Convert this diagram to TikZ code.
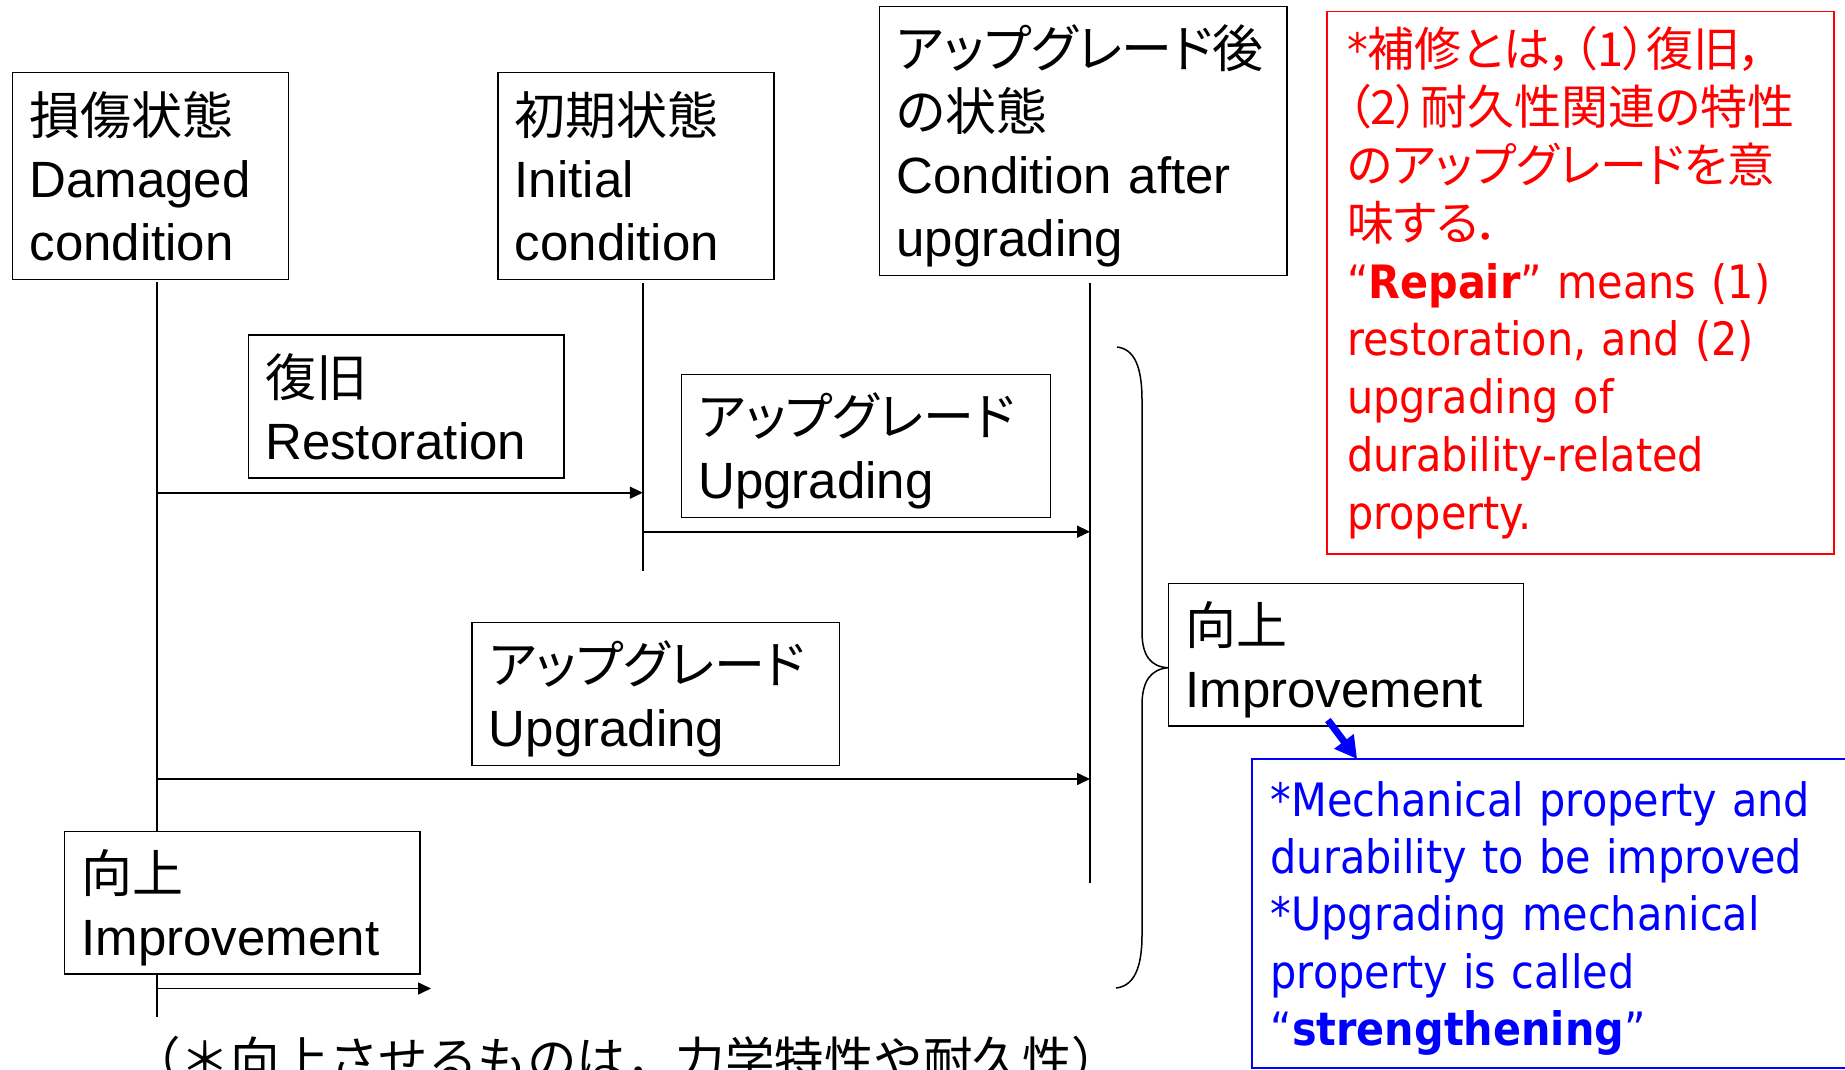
\documentclass[tikz,border=0pt]{standalone}
\usepackage{fontspec}
\setmainfont{Liberation Sans}
\newfontfamily\jp[RawFeature=+palt]{Noto Sans CJK JP}
\newfontfamily\jpf{Noto Sans CJK JP}
\newfontfamily\tah[FakeStretch=0.9]{DejaVu Sans}
\usetikzlibrary{arrows.meta,calc,backgrounds}
\definecolor{rd}{RGB}{255,0,0}
\definecolor{bl}{RGB}{0,0,255}
\begin{document}
\begin{tikzpicture}[x=1pt,y=-1pt,
  bbox/.style={draw, fill=white, line width=1.5pt, anchor=north west, align=left,
    inner xsep=17pt, inner ysep=0pt, outer sep=0pt,
    font=\fontsize{51}{63}\selectfont},
  conn/.style={line width=1.6pt},
  arr/.style={line width=1.6pt, -{Triangle[length=13pt,width=12pt]}},
  bracestyle/.style={line width=1.5pt},
]
\useasboundingbox (0,0) rectangle (1845,1070);
\clip (0,0) rectangle (1845,1070);

% state boxes
\node[bbox, minimum width=276pt, minimum height=207pt, text width=242pt] (dam) at (12.6,72.4)
  {{\jp 損傷状態}\\Damaged\\condition};
\node[bbox, minimum width=276pt, minimum height=207pt, text width=242pt] (ini) at (497.8,72.3)
  {{\jp 初期状態}\\Initial\\condition};
\node[bbox, minimum width=407.5pt, minimum height=269pt, text width=373.5pt] (aft) at (879.5,6.5)
  {{\jp アップグレード後}\\{\jp の状態}\\Condition after\\\smash{upgrading}};

% process boxes
\node[bbox, minimum width=315.5pt, minimum height=143pt, text width=281.5pt] (rest) at (248.3,334.9)
  {{\jp 復旧}\\Restoration};
\node[bbox, minimum width=369pt, minimum height=143pt, text width=335pt] (upa) at (681.3,374.3)
  {{\jp アップグレード}\\\smash{Upgrading}};
\node[bbox, minimum width=367.4pt, minimum height=143pt, text width=333.4pt] (upb) at (471.9,622.3)
  {{\jp アップグレード}\\\smash{Upgrading}};
\node[bbox, minimum width=355.4pt, minimum height=142.5pt, text width=321.4pt] (impa) at (64.6,831.5)
  {{\jp 向上}\\\smash{Improvement}};
\node[bbox, minimum width=355pt, minimum height=142.5pt, text width=321pt] (impb) at (1168.4,583.5)
  {{\jp 向上}\\\smash{Improvement}};

% red note
\node[draw=rd, fill=white, text=rd, line width=1.8pt, anchor=north west, align=left, outer sep=0pt,
  inner xsep=20pt, inner ysep=0pt, minimum width=507pt, minimum height=542.5pt, text width=467pt,
  font=\fontsize{46}{57.8}\selectfont\tah] (red) at (1327,11.5)
  {*{\jp\fontsize{47}{57.8}\selectfont 補修とは，（1）復旧，}\\
   {\jp\fontsize{47}{57.8}\selectfont （2）耐久性関連の特性}\\
   {\jp\fontsize{47}{57.8}\selectfont のアップグレードを意}\\
   {\jp\fontsize{47}{57.8}\selectfont 味する．}\\
   “\textbf{Repair}” means (1)\\
   restoration, and (2)\\
   upgrading of\\
   durability-related\\
   property.};

% blue note
\node[draw=bl, fill=white, text=bl, line width=2pt, anchor=north west, align=left, outer sep=0pt,
  inner xsep=19pt, inner ysep=0pt, minimum width=640pt, minimum height=309pt, text width=602pt,
  font=\fontsize{46}{57.3}\selectfont\tah] (blu) at (1251.6,759)
  {{*}Mechanical property and\\
   {}durability to be improved\\
   {*}Upgrading mechanical\\
   {}property is called\\
   {}\smash{“\textbf{strengthening}”}};

% bottom note
\node[anchor=base west, inner sep=0pt, font=\fontsize{49.5}{60}\selectfont\jpf] (note) at (131,1078)
  {（＊向上させるものは，力学特性や耐久性）};

% connectors (behind the boxes)
\begin{pgfonlayer}{background}
\fill[white] (0,0) rectangle (1845,1070);
\coordinate (d1) at ([xshift=6.5pt,yshift=-3pt]dam.south);
\coordinate (i1) at ([xshift=7pt,yshift=-3.5pt]ini.south);
\coordinate (a1) at ([xshift=6.75pt,yshift=-7.5pt]aft.south);
\coordinate (d1e) at (157,1016.7);
\coordinate (i1e) at (642.8,570.5);
\coordinate (a1e) at (1090,883);
\draw[conn] (d1) -- (d1 |- d1e);
\draw[conn] (i1) -- (i1 |- i1e);
\draw[conn] (a1) -- (a1 |- a1e);

\coordinate (ra) at (0,492.7);
\coordinate (ua) at (0,531.7);
\coordinate (la) at (0,779);
\coordinate (ia) at (0,988.5);
\draw[arr] (d1 |- ra) -- (i1 |- ra);
\draw[arr] (i1 |- ua) -- (a1 |- ua);
\draw[arr] (d1 |- la) -- (a1 |- la);
\draw[arr] (d1 |- ia) -- ([xshift=11pt]impa.south east |- ia);

% brace
\coordinate (bt) at (1117,347);
\coordinate (bb) at (1116,988);
\coordinate (btip) at ([yshift=-13pt]impb.west);
\draw[bracestyle] (bt) .. controls (1134,349) and (1142,366) .. (1142,400)
  -- (1142,632) .. controls (1142,656) and (1151,667) .. (btip)
  .. controls (1151,669) and (1142,681) .. (1142,705)
  -- (1142,935) .. controls (1142,968) and (1134,986) .. (bb);
\end{pgfonlayer}

% blue arrow
\draw[bl, line width=7pt, -{Triangle[length=22pt,width=23pt]}]
  ([xshift=-18pt,yshift=6pt]impb.south) -- ([xshift=105.5pt]blu.north west);
\end{tikzpicture}
\end{document}
